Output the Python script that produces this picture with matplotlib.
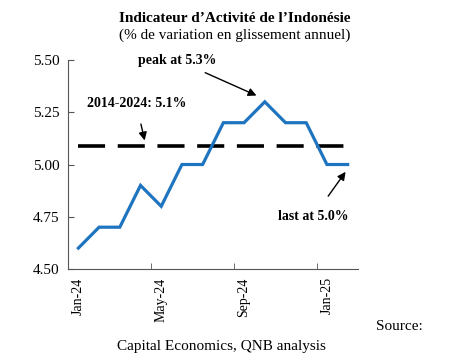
import matplotlib.pyplot as plt
import numpy as np

months = ["Jan-24", "Feb-24", "Mar-24", "Apr-24", "May-24", "Jun-24", "Jul-24",
          "Aug-24", "Sep-24", "Oct-24", "Nov-24", "Dec-24", "Jan-25", "Feb-25"]
activity = [4.6, 4.7, 4.7, 4.9, 4.8, 5.0, 5.0, 5.2, 5.2, 5.3, 5.2, 5.2, 5.0, 5.0]
avg_2014_2024 = 5.09
yticks = [4.50, 4.75, 5.00, 5.25, 5.50]

plt.rcParams["font.family"] = ["Liberation Serif", "DejaVu Serif"]

fig = plt.figure(figsize=(4.7, 3.6), dpi=100)
ax = fig.add_axes([0.1447, 0.2528, 0.617, 0.5805])

x = np.arange(len(months))
ax.plot(x, activity, color="#1F74C0", lw=2.3, solid_joinstyle="miter", zorder=3)
ax.plot([x[0], x[-1]], [avg_2014_2024, avg_2014_2024], color="black", lw=2.6,
        dashes=(7.5, 3.5), zorder=2)

ax.set_xlim(-0.5, len(months) - 0.5)
ax.set_ylim(4.5, 5.5)
ax.set_yticks(yticks)
ax.set_yticklabels([f"{v:.2f}" for v in yticks], fontsize=11)
ax.set_xticks(x[::4])
ax.set_xticklabels(months[::4], rotation=90, fontsize=10)
ax.set_xticks(np.arange(-0.5, len(months), 4), minor=True)
ax.tick_params(axis="x", which="major", length=0, pad=6)
ax.tick_params(axis="x", which="minor", direction="in", length=4, color="#555555")
ax.tick_params(axis="y", direction="in", length=4, color="#555555", pad=6)
for s in ["top", "right"]:
    ax.spines[s].set_visible(False)
for s in ["left", "bottom"]:
    ax.spines[s].set_color("#555555")

fig.text(0.5, 0.95, "Indicateur d\u2019Activit\u00e9 de l\u2019Indon\u00e9sie", ha="center",
         va="center", fontsize=11, fontweight="bold")
fig.text(0.5, 0.903, "(% de variation en glissement annuel)", ha="center",
         va="center", fontsize=11)

ax.annotate("peak at 5.3%", xy=(8.6, 5.33), xytext=(4.75, 5.5),
            fontsize=10, fontweight="bold", ha="center", va="center",
            arrowprops=dict(arrowstyle="-|>", color="black", lw=1, shrinkA=6,
                            shrinkB=0, mutation_scale=12))
ax.annotate("2014-2024: 5.1%", xy=(3.2, 5.115), xytext=(2.8, 5.29),
            fontsize=10, fontweight="bold", ha="center", va="center",
            arrowprops=dict(arrowstyle="-|>", color="black", lw=1, shrinkA=8,
                            shrinkB=0, mutation_scale=12))
ax.annotate("last at 5.0%", xy=(12.9, 4.965), xytext=(11.35, 4.75),
            fontsize=10, fontweight="bold", ha="center", va="center",
            arrowprops=dict(arrowstyle="-|>", color="black", lw=1, shrinkA=10,
                            shrinkB=0, mutation_scale=12))

fig.text(0.8, 0.092, "Source:", ha="left", va="center", fontsize=11)
fig.text(0.472, 0.038, "Capital Economics, QNB analysis", ha="center",
         va="center", fontsize=11)

fig.savefig("out.png", dpi=100)
